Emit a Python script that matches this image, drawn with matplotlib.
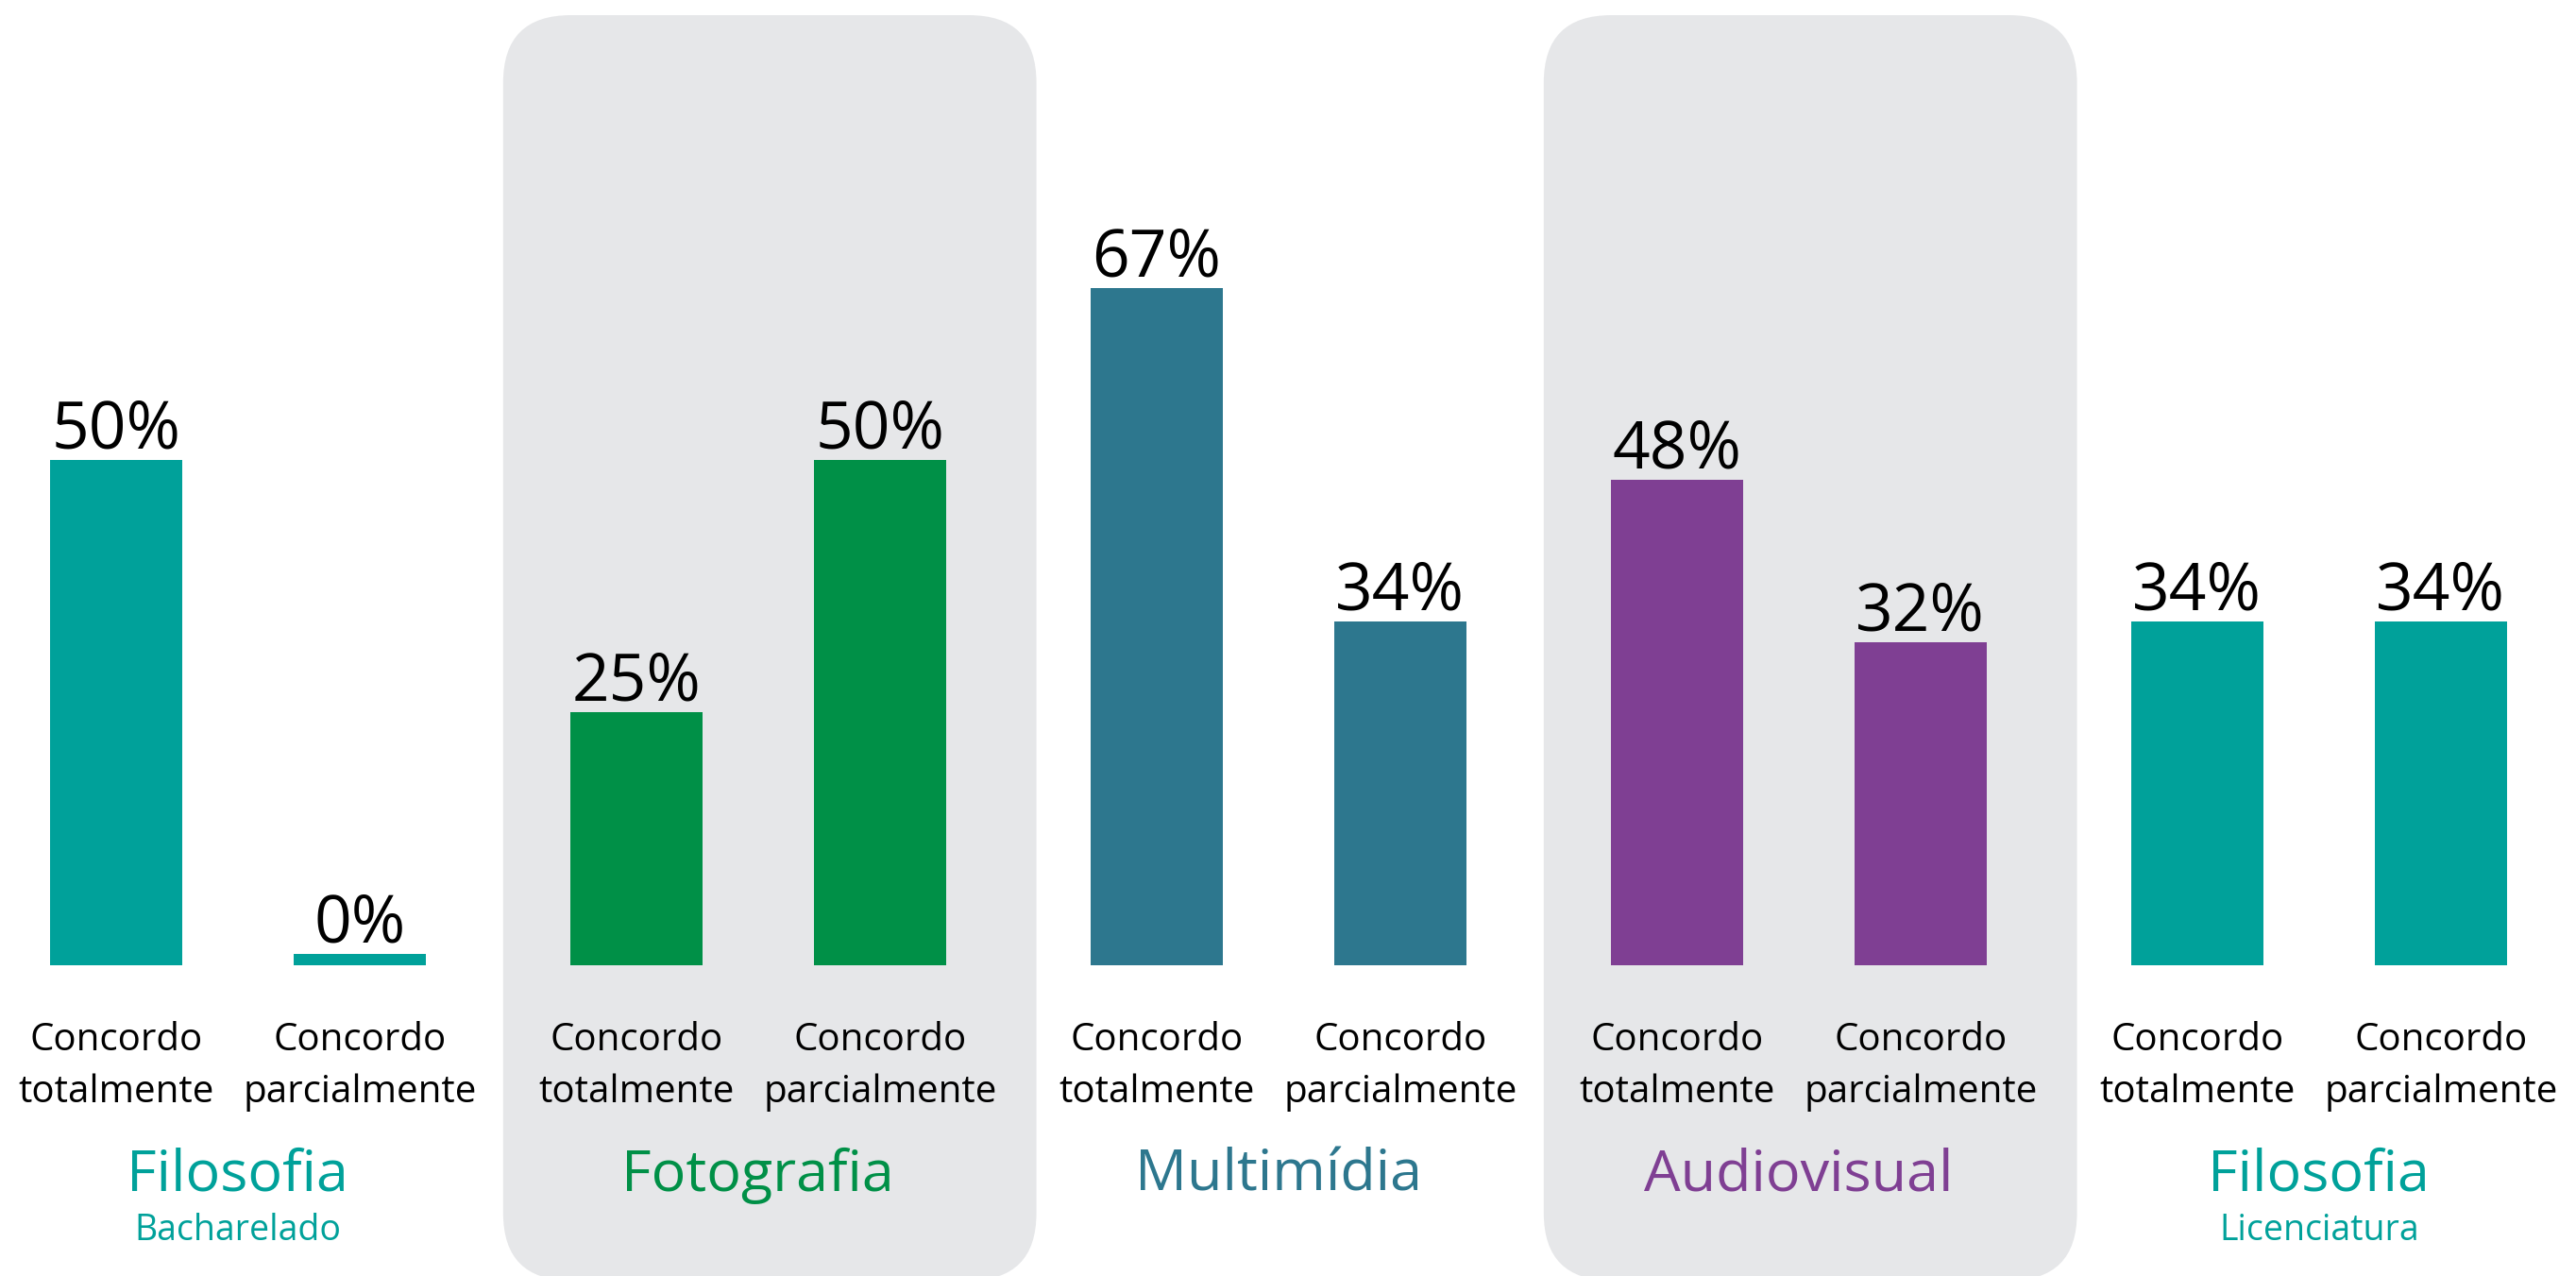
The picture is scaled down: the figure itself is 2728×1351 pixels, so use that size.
import numpy as np
import matplotlib
matplotlib.use("Agg")
import matplotlib.pyplot as plt
from matplotlib.patches import FancyBboxPatch

plt.rcParams["font.family"] = ["Open Sans", "DejaVu Sans"]

# data
groups = ["Filosofia", "Fotografia", "Multimídia", "Audiovisual", "Filosofia"]
subtitles = ["Bacharelado", "", "", "", "Licenciatura"]
answers = ["Concordo\ntotalmente", "Concordo\nparcialmente"]
totalmente = [50, 25, 67, 48, 34]
parcialmente = [0, 50, 34, 32, 34]
colors = ["#00A19A", "#009047", "#2D778E", "#7F3F93", "#00A19A"]
shaded = [False, True, False, True, False]

W, H = 2728, 1351
fig = plt.figure(figsize=(W / 100, H / 100), dpi=100)
ax = fig.add_axes([0, 0, 1, 1])
ax.axis("off")

xlim = (-0.457, 4.494)
ylim = (-30.75, 95.5)
ax.set_xlim(*xlim)
ax.set_ylim(*ylim)

x = np.arange(len(groups))
off = 0.234
width = 0.254

# grey rounded panels behind every second group
px_x = W / (xlim[1] - xlim[0])
px_y = H / (ylim[1] - ylim[0])
aspect = px_x / px_y
for xi, s in zip(x, shaded):
    if not s:
        continue
    left = xi - 0.49
    box = FancyBboxPatch((left, -31.2), 1.025, 94.0 + 31.2,
                         boxstyle="round,pad=0,rounding_size=0.13",
                         mutation_aspect=aspect, fc="#E6E7E9", ec="none", zorder=0)
    ax.add_patch(box)

for k, vals in enumerate([totalmente, parcialmente]):
    pos = x + (off if k else -off)
    # a zero value is still shown as a thin strip
    heights = [max(v, 1.1) for v in vals]
    ax.bar(pos, heights, width=width, color=colors, zorder=2)
    for p, v in zip(pos, vals):
        ax.annotate(f"{v}%", (p, max(v, 1.1)), xytext=(0, 9), textcoords="offset points",
                    ha="center", va="baseline", fontsize=50, color="black")
        line1, line2 = answers[k].split("\n")
        ax.text(p, -8.4, line1, ha="center", va="baseline", fontsize=29)
        ax.text(p, -13.55, line2, ha="center", va="baseline", fontsize=29)

for xi, g, sub, c in zip(x, groups, subtitles, colors):
    ax.text(xi, -22.3, g, ha="center", va="baseline", fontsize=44, color=c)
    if sub:
        ax.text(xi, -27.2, sub, ha="center", va="baseline", fontsize=27, color=c)

fig.savefig("out.png", dpi=100, facecolor="white")
